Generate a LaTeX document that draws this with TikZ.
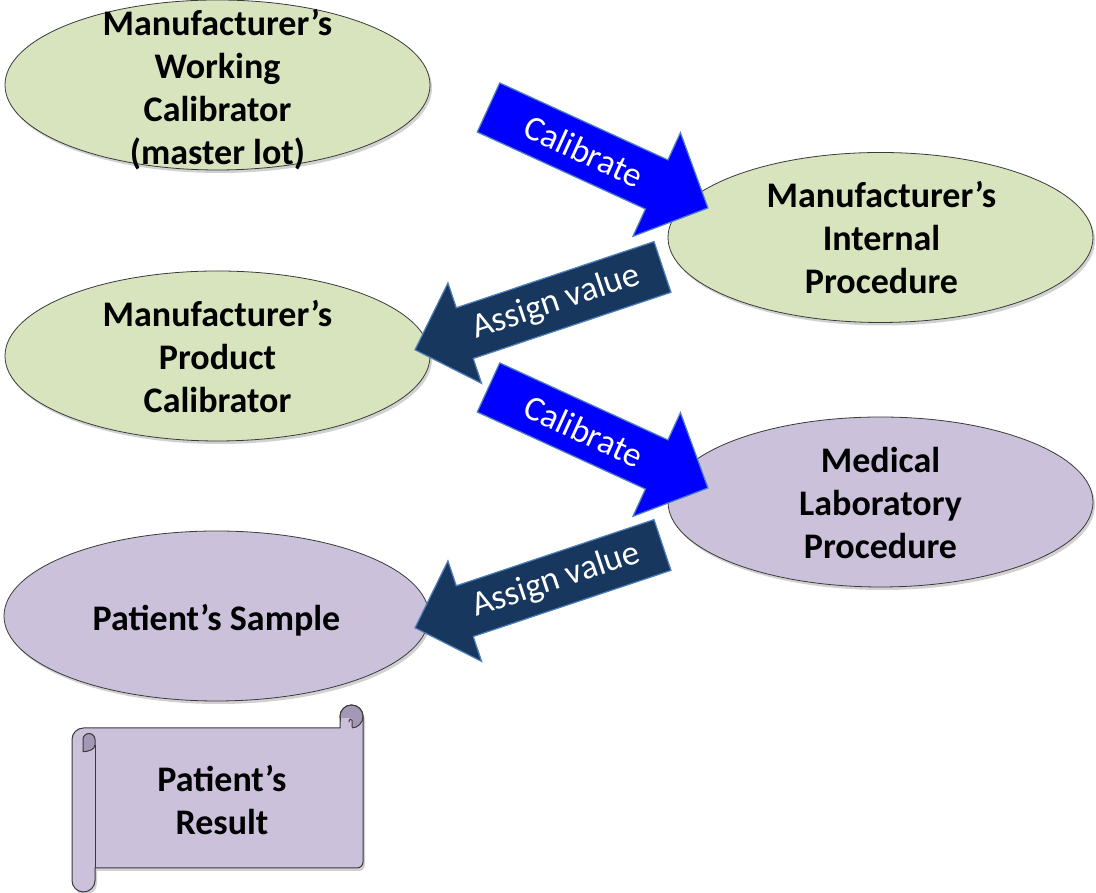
\documentclass[tikz,border=0pt]{standalone}
\usepackage{fontspec}
\setmainfont{Carlito}
\usetikzlibrary{shapes.geometric,shadows}

\definecolor{leaf}{HTML}{D7E4BD}
\definecolor{lilac}{HTML}{CCC1DA}
\definecolor{lilacdark}{HTML}{A598B6}
\definecolor{navy}{HTML}{17375E}
\definecolor{rim}{HTML}{4F81BD}
\definecolor{edge}{HTML}{3A3A3A}

\begin{document}
\begin{tikzpicture}[x=1pt,y=1pt,
  soft shadow/.style={drop shadow={shadow xshift=2pt,shadow yshift=-3pt,opacity=.18,fill=black}},
  bubble/.style={ellipse, draw=edge, line width=0.8pt, minimum width=425pt,
    minimum height=170pt, inner sep=0pt, soft shadow},
  green bubble/.style={bubble, fill=leaf},
  lilac bubble/.style={bubble, fill=lilac},
  caption/.style={font=\fontsize{36}{43}\selectfont\bfseries, align=center, text=black, inner sep=0pt},
  arrow label/.style={font=\fontsize{35}{40}\selectfont, text=white, inner sep=0pt},
  % block-arrow outlines in local coordinates (tail centre at the origin, pointing along +x)
  calib outline/.style={insert path={(0,27) -- (185,27) -- (185,57) -- (241.4,0)
    -- (185,-57) -- (185,-27) -- (0,-27) -- cycle}},
  assign outline/.style={insert path={(0,26.75) -- (208.5,26.75) -- (208.5,53) -- (261,0)
    -- (208.5,-53) -- (208.5,-26.75) -- (0,-26.75) -- cycle}},
  arrow shadow/.style={fill=black, opacity=.18},
  calib arrow/.style={fill=blue, draw=rim, line width=1.2pt},
  assign arrow/.style={fill=navy, draw=rim, line width=1.2pt},
  scroll line/.style={draw=edge, line width=1pt}]

\useasboundingbox (0,0) rectangle (1096,893);

% ---- ellipses -------------------------------------------------------------
\node[green bubble] (wc) at (217.5,808) {};
\node[caption] (wctext) at (217.5,803) {Manufacturer’s\\Working\\Calibrator\\(master lot)};

\node[green bubble] (ip) at (880.5,655.5) {};
\node[caption] (iptext) at (881.5,655.5) {Manufacturer’s\\Internal\\Procedure};

\node[green bubble] (pc) at (217.5,537) {};
\node[caption] (pctext) at (217.5,536) {Manufacturer’s\\Product\\Calibrator};

\node[lilac bubble] (ml) at (880.5,391) {};
\node[caption] (mltext) at (880.5,390) {Medical\\Laboratory\\Procedure};

\node[lilac bubble] (ps) at (216.5,277) {};
\node[caption] (pstext) at (216.5,273) {Patient’s Sample};

% ---- block arrows ---------------------------------------------------------
\coordinate (c1) at (488.5,785.5);
\coordinate (v1) at (662.5,626);
\coordinate (c2) at (488.5,505.5);
\coordinate (v2) at (662.5,348);

% shadows, offset in page coordinates
\begin{scope}[xshift=2pt,yshift=-3pt]
  \fill[arrow shadow, shift={(c1)}, rotate=-24.6, calib outline];
  \fill[arrow shadow, shift={(v1)}, rotate=198.5, assign outline];
  \fill[arrow shadow, shift={(c2)}, rotate=-24.6, calib outline];
  \fill[arrow shadow, shift={(v2)}, rotate=198.5, assign outline];
\end{scope}

\begin{scope}[shift={(c1)}, rotate=-24.6]
  \draw[calib arrow, calib outline];
  \node[arrow label, rotate=-24.6] (c1text) at (105,0) {Calibrate};
\end{scope}
\begin{scope}[shift={(v1)}, rotate=198.5]
  \draw[assign arrow, assign outline];
  \node[arrow label, rotate=18.5] (v1text) at (112,0) {Assign value};
\end{scope}
\begin{scope}[shift={(c2)}, rotate=-24.6]
  \draw[calib arrow, calib outline];
  \node[arrow label, rotate=-24.6] (c2text) at (105,0) {Calibrate};
\end{scope}
\begin{scope}[shift={(v2)}, rotate=198.5]
  \draw[assign arrow, assign outline];
  \node[arrow label, rotate=18.5] (v2text) at (112,0) {Assign value};
\end{scope}

% ---- result scroll --------------------------------------------------------
\path[fill=lilac, scroll line, soft shadow]
  (72,12.5) -- (72,153.5) arc[start angle=180,end angle=90,radius=11.5]
  -- (340,165) -- (340,176.5) arc[start angle=180,end angle=0,radius=11.5]
  -- (363,31) arc[start angle=0,end angle=-90,radius=6]
  -- (95,25) -- (95,12.5) arc[start angle=0,end angle=-180,radius=11.5] -- cycle;
% left roll
\draw[scroll line] (95,148) -- (95,25);
\path[fill=lilacdark, scroll line]
  (83,141.3) -- (83,153.5) arc[start angle=180,end angle=0,radius=6]
  -- (95,148) .. controls (95,144) and (89,141.3) .. (83,141.3) -- cycle;
% top-right curl
\path[fill=lilacdark, scroll line] (351.5,176.5) circle[radius=11.5];
\fill[lilac] (340.6,163.5) rectangle (352,175);
\draw[scroll line] (352,165.5) -- (352,172.5) arc[start angle=0,end angle=180,radius=1.4] -- (349.2,170.5);

\node[caption] (result) at (222,93) {Patient’s\\Result};

\end{tikzpicture}
\end{document}
